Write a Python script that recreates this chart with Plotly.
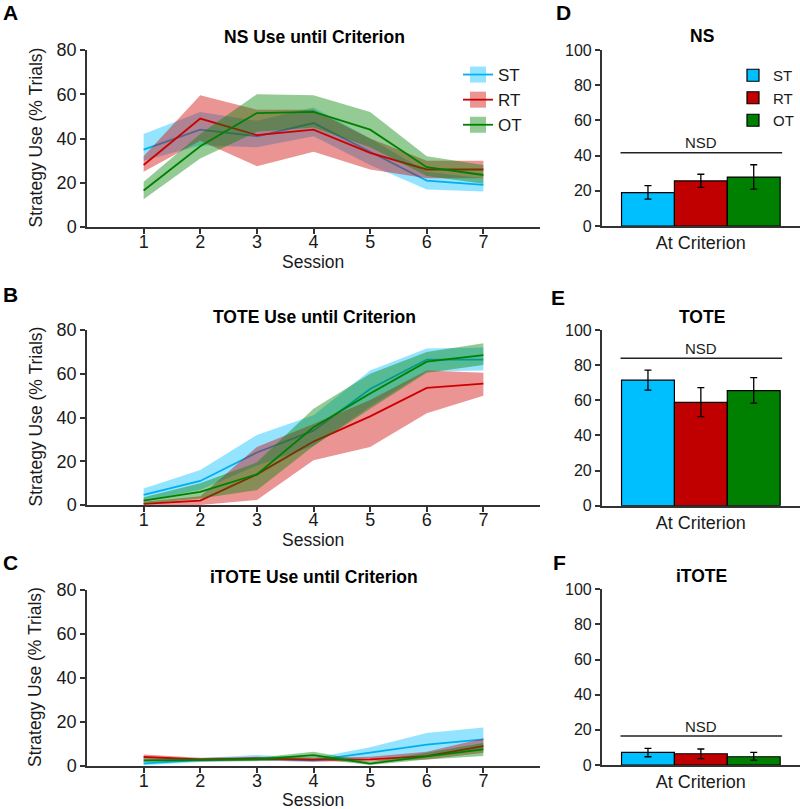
import plotly.graph_objects as go

W, H = 800, 809

sessions = [1, 2, 3, 4, 5, 6, 7]
groups = ["ST", "RT", "OT"]

# Panel A: NS use until criterion (mean, lower, upper)
ns_st_mean = [35, 44, 41, 47, 34, 21, 19]
ns_st_lo = [30, 37, 36, 41, 28, 17, 16]
ns_st_hi = [42, 52, 48, 54, 40, 25, 22]
ns_rt_mean = [28, 49, 41.5, 44, 33.5, 26, 26]
ns_rt_lo = [25, 39, 27.5, 34, 26, 22, 22]
ns_rt_hi = [32, 59.5, 53, 53, 40, 30, 30]
ns_ot_mean = [16.5, 36.5, 51.5, 52, 44, 27, 23.5]
ns_ot_lo = [12.5, 31, 43, 45, 36, 23, 19.5]
ns_ot_hi = [20.5, 42, 60, 59.5, 52, 32, 28]

# Panel B: TOTE use until criterion
tote_st_mean = [4.6, 11, 24, 34, 53, 66.5, 66.5]
tote_st_lo = [2, 7, 18, 27, 45, 61, 61.5]
tote_st_hi = [7.5, 16, 32, 41, 61.5, 71.5, 72]
tote_rt_mean = [0.5, 2, 14, 29, 40.5, 53.5, 55.5]
tote_rt_lo = [0, 0, 2.3, 20.5, 26.5, 42, 50]
tote_rt_hi = [1.5, 4, 26.5, 37, 48, 61.5, 60.5]
tote_ot_mean = [2, 6, 14, 35.5, 51, 65.5, 68.5]
tote_ot_lo = [0.5, 3, 6.8, 27, 44, 60.5, 64]
tote_ot_hi = [3.5, 10, 19.5, 44, 60, 70, 74]

# Panel C: iTOTE use until criterion
itote_st_mean = [1.2, 2.7, 3.6, 2.6, 6.1, 9.7, 12.1]
itote_st_lo = [0.3, 1.8, 2.5, 1.8, 3.5, 4.8, 7.5]
itote_st_hi = [2.2, 3.5, 5, 3.6, 8.5, 15, 17.5]
itote_rt_mean = [4.1, 3, 3.3, 2.9, 3, 4.5, 9]
itote_rt_lo = [3, 2.2, 2.5, 2, 2, 3, 6]
itote_rt_hi = [5.2, 3.8, 4.2, 3.8, 4.2, 6.5, 12.5]
itote_ot_mean = [2.6, 2.7, 3, 4.9, 1.1, 4.4, 7.6]
itote_ot_lo = [1.8, 2, 2.2, 3.5, 0.4, 3, 4.5]
itote_ot_hi = [3.4, 3.4, 3.8, 6.5, 1.9, 6, 10.5]

# Panels D-F: at criterion (mean, lower, upper error bounds)
ns_bar_mean = [19, 25.6, 27.8]
ns_bar_lo = [15.3, 22, 21]
ns_bar_hi = [22.9, 29.4, 34.8]
tote_bar_mean = [71.5, 58.8, 65.5]
tote_bar_lo = [65.8, 50.7, 58.4]
tote_bar_hi = [77.2, 67.2, 72.9]
itote_bar_mean = [7.2, 6.4, 4.7]
itote_bar_lo = [4.7, 3.6, 2.8]
itote_bar_hi = [9.5, 9.1, 7.2]
nsd_levels = [41.6, 83.9, 16.5]

line_titles = ["NS Use until Criterion", "TOTE Use until Criterion", "iTOTE Use until Criterion"]
bar_titles = ["NS", "TOTE", "iTOTE"]
panel_letters = ["A", "B", "C", "D", "E", "F"]

line_colors = {"ST": "#00AEEF", "RT": "#CC0000", "OT": "#008000"}
band_colors = {"ST": "rgba(0,191,255,0.42)", "RT": "rgba(204,0,0,0.42)", "OT": "rgba(0,128,0,0.42)"}
bar_colors = {"ST": "#00BFFF", "RT": "#C00000", "OT": "#008000"}

FONT = "Arial, Liberation Sans, sans-serif"
AX = "#333333"


def px(x):
    return x / W


def py(y):
    return 1 - y / H


line_data = [
    {"ST": (ns_st_mean, ns_st_lo, ns_st_hi), "RT": (ns_rt_mean, ns_rt_lo, ns_rt_hi), "OT": (ns_ot_mean, ns_ot_lo, ns_ot_hi)},
    {"ST": (tote_st_mean, tote_st_lo, tote_st_hi), "RT": (tote_rt_mean, tote_rt_lo, tote_rt_hi), "OT": (tote_ot_mean, tote_ot_lo, tote_ot_hi)},
    {"ST": (itote_st_mean, itote_st_lo, itote_st_hi), "RT": (itote_rt_mean, itote_rt_lo, itote_rt_hi), "OT": (itote_ot_mean, itote_ot_lo, itote_ot_hi)},
]
bar_data = [
    (ns_bar_mean, ns_bar_lo, ns_bar_hi),
    (tote_bar_mean, tote_bar_lo, tote_bar_hi),
    (itote_bar_mean, itote_bar_lo, itote_bar_hi),
]

# pixel geometry of the plot areas (top, bottom)
line_rows = [(50, 227), (330, 505), (590, 766)]
bar_rows = [(50, 226), (330, 505.7), (589.3, 765)]
line_x = (87, 540)
bar_x = (601.7, 800)
session_label_y = [262, 540, 800]

fig = go.Figure()
layout = dict(width=W, height=H, autosize=False, margin=dict(l=0, r=0, t=0, b=0, autoexpand=False),
              paper_bgcolor="white", plot_bgcolor="white", showlegend=True,
              font=dict(family=FONT, color="#1a1a1a"))
annotations = []
shapes = []

for i in range(3):
    xa = f"x{i+1}" if i else "x"
    ya = f"y{i+1}" if i else "y"
    for g in groups:
        mean, lo, hi = line_data[i][g]
        fig.add_trace(go.Scatter(x=sessions + sessions[::-1], y=hi + lo[::-1], fill="toself",
                                 fillcolor=band_colors[g], line=dict(width=0), mode="lines",
                                 hoverinfo="skip", showlegend=False, xaxis=xa, yaxis=ya))
        fig.add_trace(go.Scatter(x=sessions, y=mean, mode="lines", line=dict(color=line_colors[g], width=1.8),
                                 showlegend=False, name=g, xaxis=xa, yaxis=ya))
    top, bot = line_rows[i]
    key = "" if i == 0 else str(i + 1)
    layout["xaxis" + key] = dict(domain=[px(line_x[0]), px(line_x[1])], anchor=ya, range=[0, 8],
                                 tickvals=sessions, ticks="outside", ticklen=5, tickwidth=1.5, tickcolor=AX,
                                 ticklabelstandoff=-7,
                                 showline=True, linecolor=AX, linewidth=1.5, showgrid=False, zeroline=False,
                                 tickfont=dict(size=18, family=FONT, color="#1a1a1a"))
    layout["yaxis" + key] = dict(domain=[py(bot), py(top)], anchor=xa, range=[0, 80], dtick=20,
                                 ticks="outside", ticklen=5, tickwidth=1.5, tickcolor=AX,
                                 showline=True, linecolor=AX, linewidth=1.5, showgrid=False, zeroline=False,
                                 tickfont=dict(size=18, family=FONT, color="#1a1a1a"))
    annotations.append(dict(text="<b>" + line_titles[i] + "</b>", xref="paper", yref="paper",
                            x=px(314), y=py(top - 13), showarrow=False, xanchor="center", yanchor="middle",
                            font=dict(size=17.5, family=FONT, color="black")))
    annotations.append(dict(text="Strategy Use (% Trials)", textangle=-90, xref="paper", yref="paper",
                            x=px(35), y=py((top + bot) / 2 - 1), showarrow=False, xanchor="center", yanchor="middle",
                            font=dict(size=17.5, family=FONT, color="#1a1a1a")))
    annotations.append(dict(text="Session", xref="paper", yref="paper",
                            x=px(313), y=py(session_label_y[i]), showarrow=False, xanchor="center", yanchor="middle",
                            font=dict(size=17.5, family=FONT, color="#1a1a1a")))

for g in groups:
    fig.add_trace(go.Scatter(x=[None], y=[None], mode="lines+markers", name=g,
                             line=dict(color=line_colors[g], width=1.8),
                             marker=dict(symbol="square", size=16, color=band_colors[g], line=dict(width=0)),
                             legend="legend", xaxis="x", yaxis="y"))

for i in range(3):
    xa = f"x{i+4}"
    ya = f"y{i+4}"
    mean, lo, hi = bar_data[i]
    for j, g in enumerate(groups):
        fig.add_trace(go.Bar(x=["At Criterion"], y=[mean[j]], name=g, marker=dict(color=bar_colors[g], line=dict(color="black", width=1.2)),
                             error_y=dict(type="data", symmetric=False, array=[hi[j] - mean[j]], arrayminus=[mean[j] - lo[j]],
                                          color="black", thickness=1.3, width=3.5),
                             showlegend=(i == 0), legend="legend2", xaxis=xa, yaxis=ya))
    top, bot = bar_rows[i]
    key = str(i + 4)
    layout["xaxis" + key] = dict(domain=[px(bar_x[0]), px(bar_x[1])], anchor=ya, range=[-0.5, 0.5], type="category",
                                 ticks="", showline=True, linecolor=AX, linewidth=1.5, showgrid=False, zeroline=False,
                                 tickfont=dict(size=18, family=FONT, color="#1a1a1a"))
    layout["yaxis" + key] = dict(domain=[py(bot), py(top)], anchor=xa, range=[0, 100], dtick=20,
                                 ticks="outside", ticklen=5, tickwidth=1.5, tickcolor=AX,
                                 showline=True, linecolor=AX, linewidth=1.5, showgrid=False, zeroline=False,
                                 tickfont=dict(size=16, family=FONT, color="#1a1a1a"))
    shapes.append(dict(type="line", xref=xa, yref=ya, x0=-0.405, x1=0.41, y0=nsd_levels[i], y1=nsd_levels[i],
                       line=dict(color="#222222", width=1.5)))
    annotations.append(dict(text="NSD", xref=xa, yref=ya, x=0, y=nsd_levels[i], yshift=10, showarrow=False,
                            xanchor="center", yanchor="middle", font=dict(size=15, family=FONT, color="#1a1a1a")))
    annotations.append(dict(text="<b>" + bar_titles[i] + "</b>", xref="paper", yref="paper",
                            x=px(701.5), y=py(top - 13.5), showarrow=False, xanchor="center", yanchor="middle",
                            font=dict(size=17.5, family=FONT, color="black")))

letter_pos = [(10, 13), (10, 295), (10, 562), (563, 12), (558, 297), (559, 562)]
for letter, (lx, ly) in zip(panel_letters, letter_pos):
    annotations.append(dict(text="<b>" + letter + "</b>", xref="paper", yref="paper", x=px(lx), y=py(ly),
                            showarrow=False, xanchor="center", yanchor="middle",
                            font=dict(size=21, family=FONT, color="black")))

layout["barmode"] = "group"
layout["bargap"] = 0.2
layout["bargroupgap"] = 0
layout["annotations"] = annotations
layout["shapes"] = shapes
layout["legend"] = dict(x=px(458), y=py(57), xanchor="left", yanchor="top", bgcolor="rgba(0,0,0,0)",
                        font=dict(size=17, family=FONT, color="#1a1a1a"), itemwidth=30, tracegroupgap=0)
layout["legend2"] = dict(x=px(733), y=py(59), xanchor="left", yanchor="top", bgcolor="rgba(0,0,0,0)",
                         font=dict(size=15, family=FONT, color="#1a1a1a"), itemwidth=30, tracegroupgap=0)
fig.update_layout(**layout)
fig.write_html("out.html", config={"displayModeBar": False},
               post_script="document.documentElement.style.margin='0';document.body.style.margin='0';document.body.style.overflow='hidden';")
